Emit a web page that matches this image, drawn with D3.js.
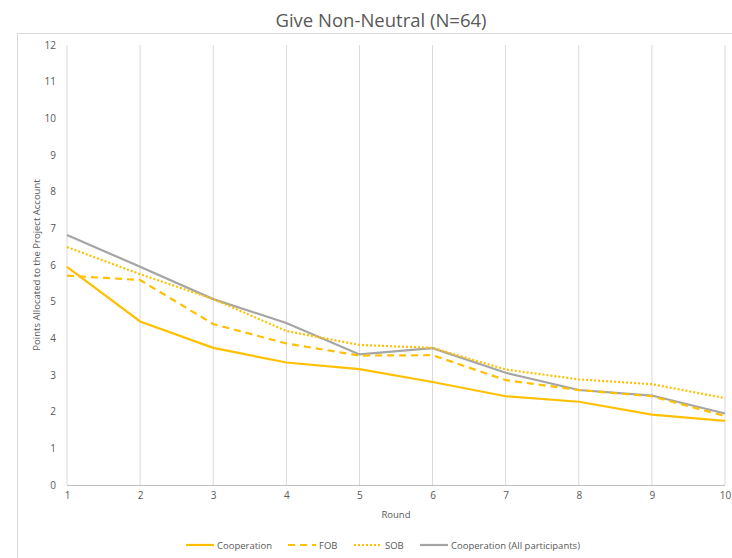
<!DOCTYPE html>
<html><head><meta charset="utf-8">
<script src="https://cdn.jsdelivr.net/npm/d3@7"></script>
<style>body{margin:0;background:#fff}svg{display:block}text{font-family:"Open Sans",sans-serif;fill:#595959}</style>
</head><body><svg id="c" width="732" height="558"></svg>
<script>
const rounds = [1,2,3,4,5,6,7,8,9,10];
const cooperation = [5.95,4.46,3.74,3.34,3.16,2.81,2.42,2.27,1.92,1.75];
const fob = [5.71,5.59,4.39,3.86,3.53,3.54,2.86,2.59,2.42,1.88];
const sob = [6.49,5.75,5.07,4.2,3.82,3.74,3.15,2.88,2.75,2.37];
const coopAll = [6.82,5.95,5.07,4.42,3.56,3.73,3.06,2.59,2.44,1.95];
const yTicks = [0,1,2,3,4,5,6,7,8,9,10,11,12];
const seriesNames = ["Cooperation","FOB","SOB","Cooperation (All participants)"];

const svg = d3.select("#c");
svg.append("rect").attr("x",17.5).attr("y",33.5).attr("width",730).attr("height",540)
  .attr("fill","none").attr("stroke","#d9d9d9");
svg.append("text").attr("x",381).attr("y",27).attr("text-anchor","middle")
  .style("font-size","18.5px").text("Give Non-Neutral (N=64)");

const x = d3.scaleLinear().domain([1,10]).range([67,725]);
const y = d3.scaleLinear().domain([0,12]).range([485,45]);

svg.append("g").selectAll("line").data(rounds).join("line")
  .attr("x1",d=>x(d)).attr("x2",d=>x(d)).attr("y1",y(12)).attr("y2",y(0))
  .attr("stroke","#d9d9d9").attr("stroke-width",1);
svg.append("line").attr("x1",x(1)).attr("x2",x(10)).attr("y1",y(0)+0.5).attr("y2",y(0)+0.5)
  .attr("stroke","#bfbfbf");

const yAxis = d3.axisLeft(y).tickValues(yTicks).tickSize(0).tickPadding(0);
const gy = svg.append("g").attr("transform","translate(56,0)").call(yAxis);
gy.select(".domain").remove();
gy.selectAll("text").style("font-size","10px").style("fill","#595959").style("font-family","Open Sans");

const xAxis = d3.axisBottom(x).tickValues(rounds).tickSize(0).tickPadding(0);
const gx = svg.append("g").attr("transform","translate(0,492)").call(xAxis);
gx.select(".domain").remove();
gx.selectAll("text").style("font-size","10px").style("fill","#595959").style("font-family","Open Sans");

svg.append("text").attr("transform","translate(40,265) rotate(-90)").attr("text-anchor","middle")
  .style("font-size","9.5px").text("Points Allocated to the Project Account");
svg.append("text").attr("x",396).attr("y",518).attr("text-anchor","middle")
  .style("font-size","9.5px").text("Round");

const styles = [
  {data:cooperation,color:"#FFC000",dash:null},
  {data:fob,color:"#FFC000",dash:"7,5"},
  {data:sob,color:"#FFC000",dash:"2,2"},
  {data:coopAll,color:"#A5A5A5",dash:null}
];
const line = d3.line().x((d,i)=>x(rounds[i])).y(d=>y(d));
[3,2,1,0].forEach(i=>{
  const s = styles[i];
  svg.append("path").datum(s.data).attr("d",line).attr("fill","none")
    .attr("stroke",s.color).attr("stroke-width",2.2)
    .attr("stroke-dasharray",s.dash);
});

const legX = [186,288,354,420];
seriesNames.forEach((n,i)=>{
  const s = styles[i];
  svg.append("line").attr("x1",legX[i]).attr("x2",legX[i]+28).attr("y1",545).attr("y2",545)
    .attr("stroke",s.color).attr("stroke-width",2.2).attr("stroke-dasharray",s.dash);
  svg.append("text").attr("x",legX[i]+31).attr("y",548.5).style("font-size","9.5px").text(n);
});
</script></body></html>
